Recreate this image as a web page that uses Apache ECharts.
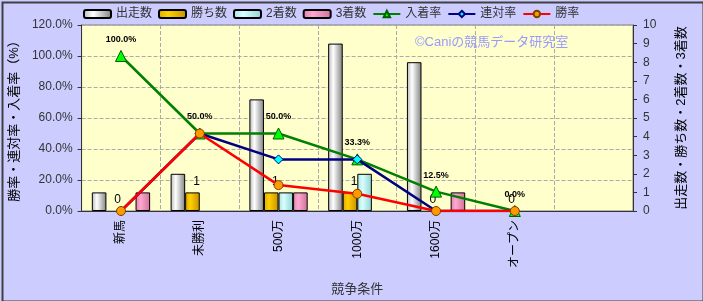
<!DOCTYPE html>
<html><head><meta charset="utf-8">
<script src="https://cdn.jsdelivr.net/npm/echarts@6/dist/echarts.min.js"></script>
<style>
html,body{margin:0;padding:0;background:#fff;}
#c{position:absolute;left:0;top:0;width:703px;height:301px;}
</style></head><body>
<div id="c"></div>
<script>
const categories = ['新馬','未勝利','500万','1000万','1600万','オープン',''];
const starts = [1,2,6,9,8,0];
const wins = [0,1,1,1,0,0];
const seconds = [0,0,1,2,0,0];
const thirds = [1,0,1,0,1,0];
const placeRate = [100,50,50,33.3,12.5,0];
const rentaiRate = [0,50,33.3,33.3,0,0];
const winRate = [0,50,16.7,11.1,0,0];
const leftTicks = [0,120,20];
const rightTicks = [0,10,1];

const FONT = '"Liberation Sans","Noto Sans CJK JP",sans-serif';
const chart = echarts.init(document.getElementById('c'));
function grad(c0,c1,c2){
  return new echarts.graphic.LinearGradient(0,0,1,0,[
    {offset:0,color:c0},{offset:0.35,color:c1},{offset:1,color:c2}]);
}
function barData(arr){
  return arr.map(v => v === 0 ? {value:v, itemStyle:{borderWidth:0}} : v);
}
const barBase = {type:'bar', yAxisIndex:1, barGap:'0%', barCategoryGap:'26%'};
chart.setOption({
  backgroundColor:'#ccccff',
  textStyle:{fontFamily:FONT},
  animation:false,
  legend:{
    top:3, left:78, itemGap:6, itemWidth:27, itemHeight:8,
    textStyle:{fontSize:12,color:'#333',fontFamily:FONT},
    data:[
      {name:'出走数',icon:'roundRect'},{name:'勝ち数',icon:'roundRect'},
      {name:'2着数',icon:'roundRect'},{name:'3着数',icon:'roundRect'},
      '入着率','連対率','勝率']
  },
  grid:{left:77,right:70,top:25,bottom:88,show:true,backgroundColor:'#ffffcc',borderColor:'#808080',borderWidth:1},
  graphic:[
    {type:'text',left:415,top:36,style:{text:'©Caniの競馬データ研究室',fill:'#9999ff',font:'13px '+FONT}},
    {type:'rect',left:0,top:0,z:100,shape:{x:0.5,y:0.5,width:701,height:299},style:{fill:'none',stroke:'#404040',lineWidth:2}}
  ],
  xAxis:{
    type:'category', data:categories, boundaryGap:true,
    name:'競争条件', nameLocation:'middle', nameGap:72,
    nameTextStyle:{fontSize:13,color:'#333'},
    axisLine:{lineStyle:{color:'#333',width:1}},
    axisTick:{show:false},
    axisLabel:{rotate:90,fontSize:12,color:'#000',margin:9},
    splitLine:{show:true,lineStyle:{color:'#aaaaaa',type:'dashed'}}
  },
  yAxis:[
    {type:'value',min:leftTicks[0],max:leftTicks[1],interval:leftTicks[2],
     name:'勝率・連対率・入着率（%）',nameLocation:'middle',nameGap:50,nameRotate:90,
     nameTextStyle:{fontSize:13,color:'#000'},
     axisLine:{show:true,lineStyle:{color:'#333'}},axisTick:{show:true,length:4},
     axisLabel:{formatter:v=>v.toFixed(1)+'%',fontSize:12,color:'#333',margin:9},
     splitLine:{lineStyle:{color:'#aaaaaa',type:'dashed'}}},
    {type:'value',min:rightTicks[0],max:rightTicks[1],interval:rightTicks[2],
     name:'出走数・勝ち数・2着数・3着数',nameLocation:'middle',nameGap:42,nameRotate:90,
     nameTextStyle:{fontSize:13,color:'#000'},
     axisLine:{show:true,lineStyle:{color:'#333'}},axisTick:{show:true,length:4},
     axisLabel:{fontSize:12,color:'#333',margin:10},
     splitLine:{show:false}}
  ],
  series:[
    Object.assign({},barBase,{name:'出走数',data:barData(starts),
      itemStyle:{color:grad('#b8b8b8','#ffffff','#808080'),borderColor:'#000',borderWidth:1}}),
    Object.assign({},barBase,{name:'勝ち数',data:barData(wins),
      itemStyle:{color:grad('#e0a800','#ffd000','#c89000'),borderColor:'#000',borderWidth:1},
      label:{show:true,position:'top',fontSize:12,color:'#000',offset:[4,0]}}),
    Object.assign({},barBase,{name:'2着数',data:barData(seconds),
      itemStyle:{color:grad('#a8e0e0','#d8ffff','#90d0d0'),borderColor:'#000',borderWidth:1}}),
    Object.assign({},barBase,{name:'3着数',data:barData(thirds),
      itemStyle:{color:grad('#e080b0','#ffa8d0','#d07098'),borderColor:'#000',borderWidth:1}}),
    {name:'入着率',type:'line',yAxisIndex:0,data:placeRate,
     symbol:'triangle',symbolSize:11,z:3,
     lineStyle:{color:'#008000',width:2.5},
     itemStyle:{color:'#00ff00',borderColor:'#006000',borderWidth:1},
     label:{show:true,position:'top',distance:6,fontSize:9,fontWeight:'bold',color:'#000',formatter:p=>p.value.toFixed(1)+'%'}},
    {name:'連対率',type:'line',yAxisIndex:0,data:rentaiRate,
     symbol:'diamond',symbolSize:9,z:4,
     lineStyle:{color:'#000080',width:2.5},
     itemStyle:{color:'#00ffff',borderColor:'#000080',borderWidth:1}},
    {name:'勝率',type:'line',yAxisIndex:0,data:winRate,
     symbol:'circle',symbolSize:9,z:5,
     lineStyle:{color:'#ff0000',width:2.5},
     itemStyle:{color:'#ff9900',borderColor:'#804000',borderWidth:1}}
  ]
});
</script></body></html>
